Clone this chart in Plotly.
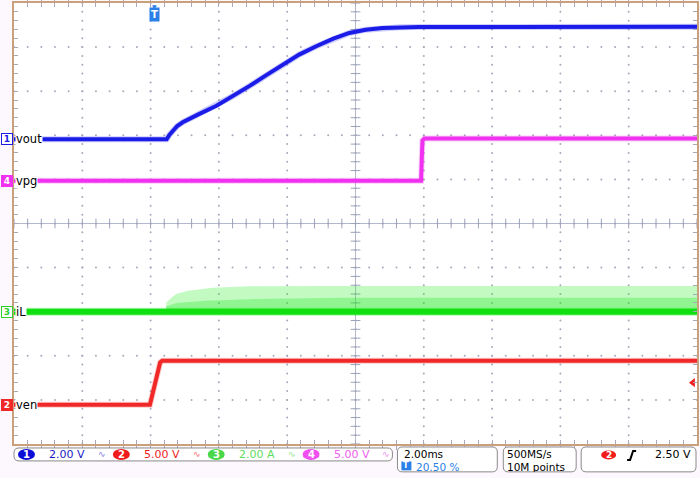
import numpy as np
import plotly.graph_objects as go

# ---------------- data ----------------
# horizontal: 2.00 ms/div, 10 div, trigger at 20.50 % of record
time_per_div = 2.0          # ms
n_div_x = 10
trig_pos = 0.205
t_start = -trig_pos * time_per_div * n_div_x
t_end = t_start + time_per_div * n_div_x

# channel 1: vout (V)
vout_t = [t_start, 0.37, 0.45, 0.55, 0.68, 0.84, 1.05, 1.30, 1.83, 2.30, 2.80, 3.30,
          3.77, 4.25, 4.75, 5.25, 5.72, 6.20, 6.69, 7.20, 7.77, t_end]
vout_v = [0.0, 0.0, 0.20, 0.40, 0.60, 0.77, 0.94, 1.13, 1.52, 1.95, 2.42, 2.92,
          3.39, 3.84, 4.22, 4.56, 4.82, 4.97, 5.05, 5.08, 5.09, 5.10]

# channel 4: vpg (V)
vpg_t = [t_start, 7.82, 7.86, 7.92, t_end]
vpg_v = [0.0, 0.0, 4.55, 4.8, 4.8]

# channel 3: iL (A) - baseline and switching envelope
il_t = [t_start, t_end]
il_a = [0.0, 0.0]
il_env_t = [0.35, 0.36, 0.50, 0.66, 1.00, 1.72, 2.80, 5.00, t_end]
il_env_a = [0.0, 0.42, 0.62, 0.81, 0.95, 1.09, 1.15, 1.17, 1.17]
il_core_t = [0.35, 0.36, 0.66, 1.50, 3.00, 5.50, t_end]
il_core_a = [0.0, 0.25, 0.40, 0.50, 0.58, 0.63, 0.63]

# channel 2: ven (V)
ven_t = [t_start, -0.12, 0.18, 0.24, t_end]
ven_v = [0.0, 0.0, 4.8, 5.0, 5.0]

# channel settings: scale per division and ground offset (divisions from centre)
ch_names = {1: "vout", 2: "ven", 3: "iL", 4: "vpg"}
ch_scale = {1: 2.0, 2: 5.0, 3: 2.0, 4: 5.0}
ch_unit = {1: "V", 2: "V", 3: "A", 4: "V"}
ch_offset = {1: 1.91, 2: -4.11, 3: -2.00, 4: 0.97}
trig_level = 2.50  # V on ch2

# ---------------- styling ----------------
col = {1: "#1c1ce8", 2: "#f02828", 3: "#10e010", 4: "#f032f0"}
glow = {1: "rgba(60,60,240,0.25)", 2: "rgba(240,60,60,0.25)",
        3: "rgba(0,230,0,0.3)", 4: "rgba(240,60,240,0.25)"}
axis_of = {1: "y2", 2: "y3", 3: "y4", 4: "y5"}

W, H = 700, 478
L, R, T, B = 14, 698, 1, 444


def px(x):
    return (x - L) / (R - L)


def py(y):
    return (B - y) / (B - T)


fig = go.Figure()

# ---- graticule dots ----
div_t = [t_start + time_per_div * k for k in range(1, n_div_x)]
gx, gy = [], []
for tt in div_t:
    for yy in np.arange(-5, 5.001, 0.2):
        gx.append(tt); gy.append(yy)
for yy in range(-4, 5):
    for tt in np.arange(t_start, t_end + 1e-6, 0.4):
        gx.append(tt); gy.append(yy)
fig.add_trace(go.Scatter(x=gx, y=gy, mode="markers", hoverinfo="skip",
                         marker=dict(size=2, color="#a8a8bc"), showlegend=False))

t_center = t_start + time_per_div * n_div_x / 2
# centre tick marks
fig.add_trace(go.Scatter(x=list(np.arange(t_start, t_end + 1e-6, 0.4)),
                         y=[0] * 51, mode="markers", hoverinfo="skip", showlegend=False,
                         marker=dict(symbol="line-ns", size=7,
                                     line=dict(width=1, color="#9ea4bc"))))
fig.add_trace(go.Scatter(x=[t_center] * 51, y=list(np.arange(-5, 5.001, 0.2)),
                         mode="markers", hoverinfo="skip", showlegend=False,
                         marker=dict(symbol="line-ew", size=7,
                                     line=dict(width=1, color="#9ea4bc"))))

# ---- iL envelope fills ----
fig.add_trace(go.Scatter(x=il_env_t, y=il_env_a, yaxis="y4", mode="lines",
                         line=dict(width=0), fill="tozeroy",
                         fillcolor="rgba(30,235,30,0.27)", hoverinfo="skip", showlegend=False))
fig.add_trace(go.Scatter(x=il_core_t, y=il_core_a, yaxis="y4", mode="lines",
                         line=dict(width=0), fill="tozeroy",
                         fillcolor="rgba(30,235,30,0.30)", hoverinfo="skip", showlegend=False))

# ---- traces ----
series = {1: (vout_t, vout_v), 4: (vpg_t, vpg_v), 3: (il_t, il_a), 2: (ven_t, ven_v)}
for ch, (tx, vy) in series.items():
    wg, wc = (8, 6) if ch == 3 else (6, 4)
    fig.add_trace(go.Scatter(x=tx, y=vy, yaxis=axis_of[ch], mode="lines",
                             line=dict(color=glow[ch], width=wg),
                             hoverinfo="skip", showlegend=False))
    fig.add_trace(go.Scatter(x=tx, y=vy, yaxis=axis_of[ch], mode="lines",
                             line=dict(color=col[ch], width=wc),
                             name=ch_names[ch], showlegend=False))

# trigger level arrow
fig.add_trace(go.Scatter(x=[t_end - 0.12], y=[trig_level], yaxis="y3", mode="markers",
                         cliponaxis=False, hoverinfo="skip", showlegend=False,
                         marker=dict(symbol="triangle-left", size=8, color="#f02020")))

# ---------------- layout ----------------
def ch_range(ch):
    s, o = ch_scale[ch], ch_offset[ch]
    return [(-5 - o) * s, (5 - o) * s]


frame = "#c8a07c"
layout = dict(
    width=W, height=H,
    margin=dict(l=L, r=W - R, t=T, b=H - B),
    paper_bgcolor="#fdf8fd", plot_bgcolor="white",
    showlegend=False,
    xaxis=dict(range=[t_start, t_end], showgrid=False, zeroline=False,
               showticklabels=False, ticks="inside", tick0=t_start, dtick=0.4,
               ticklen=4, tickcolor="#a8a8b8", showline=True, linecolor=frame,
               linewidth=2, mirror="allticks"),
    yaxis=dict(range=[-5, 5], showgrid=False, zeroline=False, showticklabels=False,
               ticks="inside", tick0=-5, dtick=0.2, ticklen=4, tickcolor="#a8a8b8",
               showline=True, linecolor=frame, linewidth=2, mirror="allticks"),
)
for ch in (1, 2, 3, 4):
    key = "yaxis" + axis_of[ch][1:]
    layout[key] = dict(range=ch_range(ch), overlaying="y", visible=False)
fig.update_layout(**layout)

# centre cross lines
fig.add_shape(type="line", xref="x", yref="y", x0=t_center, x1=t_center, y0=-5, y1=5,
              line=dict(color="#b4b8cc", width=1), layer="below")
fig.add_shape(type="line", xref="x", yref="y", x0=t_start, x1=t_end, y0=0, y1=0,
              line=dict(color="#b4b8cc", width=1), layer="below")

FONT = "DejaVu Sans"
ann = []
# channel labels at the left
badge = {1: ("white", col[1], col[1]), 2: (col[2], "white", col[2]),
         3: ("white", "#30d030", "#30d030"), 4: (col[4], "white", col[4])}
for ch in (1, 2, 3, 4):
    bg, fc, bc = badge[ch]
    ann.append(dict(xref="paper", yref=axis_of[ch], x=0, y=0, xanchor="right",
                    yanchor="middle", xshift=-1, showarrow=False, text="<b>%d</b>" % ch,
                    font=dict(family=FONT, size=9, color=fc), bgcolor=bg,
                    bordercolor=bc, borderwidth=1, borderpad=0, width=10))
    ann.append(dict(xref="paper", yref=axis_of[ch], x=0, y=0, xanchor="left",
                    yanchor="middle", xshift=1, showarrow=False, text=ch_names[ch],
                    font=dict(family=FONT, size=11.5, color="black"),
                    bgcolor="white", borderpad=0))

# trigger position marker
ann.append(dict(xref="x", yref="paper", x=0, y=1, xanchor="center", yanchor="top",
                yshift=-4, showarrow=False, text="<b>T</b>",
                font=dict(family=FONT, size=10, color="white"), bgcolor="#2a7fe8",
                borderpad=1))
ann.append(dict(xref="x", yref="paper", x=0, y=1, xanchor="center", yanchor="top",
                yshift=2, showarrow=False, text="▼",
                font=dict(family=FONT, size=6, color="#2a7fe8")))


def text_at(x, y, s, color, size=11, anchor="left", bold=False, h=None):
    d = dict(xref="paper", yref="paper", x=px(x), y=py(y), xanchor=anchor,
             yanchor="middle", showarrow=False,
             text=("<b>%s</b>" % s) if bold else s,
             font=dict(family=FONT, size=size, color=color))
    if h:
        d["height"] = h
        d["valign"] = "middle"
    ann.append(d)


def rrect(x0, y0, x1, y1, r=5, color="#8a8a8a"):
    p = (f"M {px(x0 + r)},{py(y0)} L {px(x1 - r)},{py(y0)} "
         f"Q {px(x1)},{py(y0)} {px(x1)},{py(y0 + r)} L {px(x1)},{py(y1 - r)} "
         f"Q {px(x1)},{py(y1)} {px(x1 - r)},{py(y1)} L {px(x0 + r)},{py(y1)} "
         f"Q {px(x0)},{py(y1)} {px(x0)},{py(y1 - r)} L {px(x0)},{py(y0 + r)} "
         f"Q {px(x0)},{py(y0)} {px(x0 + r)},{py(y0)} Z")
    fig.add_shape(type="path", xref="paper", yref="paper", path=p,
                  line=dict(color=color, width=1), fillcolor="white")


def ellipse(x0, y0, x1, y1, color):
    fig.add_shape(type="circle", xref="paper", yref="paper", x0=px(x0), x1=px(x1),
                  y0=py(y1), y1=py(y0), fillcolor=color, line=dict(width=0))


# status boxes
rrect(14, 448, 393, 461)
rrect(398, 447, 498, 472)
rrect(504, 447, 577, 472)
rrect(582, 447, 697, 472)

status_cols = {1: ("#0c0cd8", "#1a1ac4", "#8080e0"),
               2: ("#f01c1c", "#f01c1c", "#f07070"),
               3: ("#4ad84a", "#60dc60", "#90e890"),
               4: ("#f050f0", "#f060f0", "#f090f0")}
x_badges = {1: 18, 2: 113, 3: 208, 4: 303}
for ch in (1, 2, 3, 4):
    bcol, tcol, icol = status_cols[ch]
    xb = x_badges[ch]
    ellipse(xb, 449, xb + 17, 460, bcol)
    text_at(xb + 8.5, 454.5, str(ch), "white", size=10, anchor="center", bold=True)
    text_at(xb + 29, 454.5, "%.2f %s" % (ch_scale[ch], ch_unit[ch]), tcol, size=11)
    text_at(xb + 84, 454, "∿", icol, size=9, anchor="center")

text_at(403, 454, "%.2fms" % time_per_div, "black", size=10.5, h=11)
fig.add_shape(type="rect", xref="paper", yref="paper", x0=px(402), x1=px(412),
              y0=py(470.5), y1=py(461.5), fillcolor="#2a7fe8", line=dict(width=0))
text_at(407, 466, "T", "white", size=8, anchor="center", bold=True, h=9)
text_at(415, 466.5, "%.2f %%" % (trig_pos * 100), "#2a7fe8", size=10.5, h=11)

text_at(506, 454, "500MS/s", "black", size=10.5, h=11)
text_at(506, 466.5, "10M points", "black", size=10.5, h=11)

ellipse(602, 450.5, 617, 459.5, "#f01c1c")
text_at(609.5, 455, "2", "white", size=9, anchor="center", bold=True)
fig.add_shape(type="path", xref="paper", yref="paper",
              path=f"M {px(628)},{py(460)} L {px(631)},{py(460)} L {px(634)},{py(451)} L {px(637)},{py(451)}",
              line=dict(color="black", width=2))
text_at(694, 455, "%.2f V" % trig_level, "black", size=11, anchor="right")

fig.update_layout(annotations=ann)
fig.write_html("out.html", config={"displayModeBar": False},
               post_script="document.body.style.margin='0';document.body.style.overflow='hidden';")
